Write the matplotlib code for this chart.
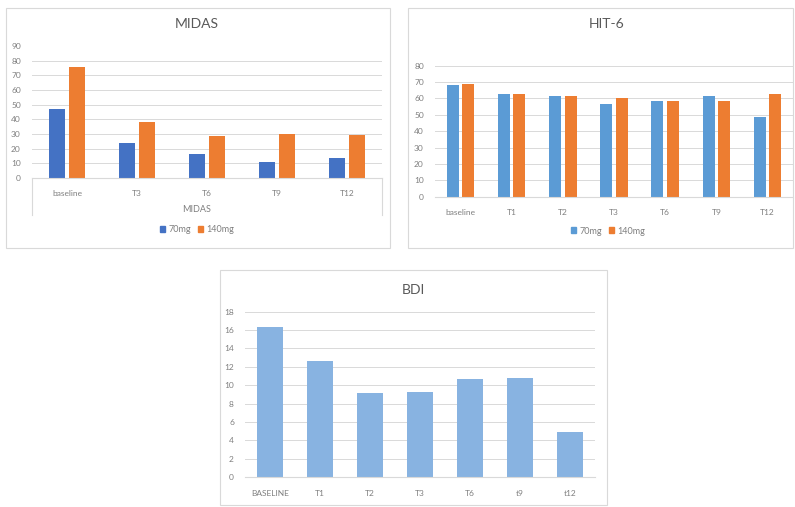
import matplotlib
matplotlib.use("Agg")
import matplotlib.pyplot as plt
from matplotlib.patches import Rectangle, Patch
from matplotlib.lines import Line2D
import numpy as np

W, H = 795, 507

# MIDAS scores by dose
midas_cats = ["baseline", "T3", "T6", "T9", "T12"]
midas_70 = [47, 24, 16.3, 10.9, 13.6]
midas_140 = [76, 38.5, 28.3, 30.2, 29.5]
midas_ticks = [0, 10, 20, 30, 40, 50, 60, 70, 80, 90]

# HIT-6 scores by dose
hit_cats = ["baseline", "T1", "T2", "T3", "T6", "T9", "T12"]
hit_70 = [68.2, 62.5, 61.7, 56.6, 58.4, 61.3, 48.4]
hit_140 = [68.6, 62.5, 61.5, 60.1, 58.4, 58.4, 62.5]
hit_ticks = [0, 10, 20, 30, 40, 50, 60, 70, 80]

# BDI scores
bdi_cats = ["BASELINE", "T1", "T2", "T3", "T6", "t9", "t12"]
bdi_vals = [16.3, 12.6, 9.1, 9.3, 10.7, 10.8, 4.9]
bdi_ticks = [0, 2, 4, 6, 8, 10, 12, 14, 16, 18]

BLUE_DARK = "#4472C4"
BLUE = "#5B9BD5"
ORANGE = "#ED7D31"
BDI_BLUE = "#88B3E1"
GRID = "#D9D9D9"
TEXT = "#7F7F7F"
TITLE = "#595959"

plt.rcParams["font.family"] = ["Lato", "DejaVu Sans"]

fig = plt.figure(figsize=(W / 100, H / 100), dpi=100)
fig.patch.set_facecolor("white")


def px_axes(l, t, r, b):
    return fig.add_axes([l / W, 1 - b / H, (r - l) / W, (b - t) / H])


def panel(l, t, r, b):
    fig.add_artist(Rectangle((l / W, 1 - b / H), (r - l) / W, (b - t) / H,
                             transform=fig.transFigure, fill=False,
                             edgecolor=GRID, linewidth=0.8))


def px_text(x, y, s, **kw):
    fig.text(x / W, 1 - y / H, s, ha="center", va="center", **kw)


def style(ax, ticks, grid_ticks, ncat):
    ax.set_xlim(-0.5, ncat - 0.5)
    ax.set_ylim(ticks[0], ticks[-1])
    ax.set_yticks(ticks)
    for v in grid_ticks:
        ax.axhline(v, color=GRID, linewidth=0.7, zorder=0)
    for s in ("top", "right", "left"):
        ax.spines[s].set_visible(False)
    ax.spines["bottom"].set_color(GRID)
    ax.spines["bottom"].set_linewidth(0.8)
    ax.tick_params(axis="both", length=0, labelsize=6, labelcolor=TEXT)
    ax.tick_params(axis="y", pad=8)
    ax.set_facecolor("none")


# ---- MIDAS ----
panel(6, 8, 390, 248)
ax1 = px_axes(32, 46, 382, 178)
x = np.arange(len(midas_cats))
bw = 0.233
off = 0.143
ax1.bar(x - off, midas_70, bw, color=BLUE_DARK, zorder=2)
ax1.bar(x + off, midas_140, bw, color=ORANGE, zorder=2)
style(ax1, midas_ticks, midas_ticks[1:-1], len(midas_cats))
ax1.set_xticks(x)
ax1.set_xticklabels(midas_cats)
ax1.tick_params(axis="x", pad=9)
# multi-level category frame
fig.add_artist(Line2D([32 / W, 32 / W], [1 - 178 / H, 1 - 215 / H],
                      transform=fig.transFigure, color=GRID, linewidth=0.8))
fig.add_artist(Line2D([382 / W, 382 / W], [1 - 178 / H, 1 - 215 / H],
                      transform=fig.transFigure, color=GRID, linewidth=0.8))
px_text(197, 210, "MIDAS", fontsize=6.5, color=TEXT)
px_text(197, 24, "MIDAS", fontsize=10, color=TITLE)
fig.legend(handles=[Patch(color=BLUE_DARK, label="70mg"),
                    Patch(color=ORANGE, label="140mg")],
           loc="center", bbox_to_anchor=(197 / W, 1 - 230 / H), ncol=2,
           frameon=False, fontsize=6.5, handlelength=0.6, handleheight=0.6,
           handletextpad=0.3, columnspacing=0.8, labelcolor=TEXT)

# ---- HIT-6 ----
panel(408, 8, 793, 248)
ax2 = px_axes(435, 65.7, 793, 196.7)
x = np.arange(len(hit_cats))
bw = 0.235
off = 0.15
ax2.bar(x - off, hit_70, bw, color=BLUE, zorder=2)
ax2.bar(x + off, hit_140, bw, color=ORANGE, zorder=2)
style(ax2, hit_ticks, hit_ticks[1:], len(hit_cats))
ax2.set_xticks(x)
ax2.set_xticklabels(hit_cats)
ax2.tick_params(axis="x", pad=9)
px_text(607, 24, "HIT-6", fontsize=10, color=TITLE)
fig.legend(handles=[Patch(color=BLUE, label="70mg"),
                    Patch(color=ORANGE, label="140mg")],
           loc="center", bbox_to_anchor=(608 / W, 1 - 231 / H), ncol=2,
           frameon=False, fontsize=6.5, handlelength=0.6, handleheight=0.6,
           handletextpad=0.3, columnspacing=0.8, labelcolor=TEXT)

# ---- BDI ----
panel(220, 270, 607, 505)
ax3 = px_axes(245, 311.7, 595, 477)
x = np.arange(len(bdi_cats))
ax3.bar(x, bdi_vals, 0.53, color=BDI_BLUE, zorder=2)
style(ax3, bdi_ticks, bdi_ticks[1:], len(bdi_cats))
ax3.set_xticks(x)
ax3.set_xticklabels(bdi_cats)
ax3.tick_params(axis="x", pad=9)
px_text(413, 290, "BDI", fontsize=10, color=TITLE)

fig.savefig("out.png", dpi=100, facecolor="white")
